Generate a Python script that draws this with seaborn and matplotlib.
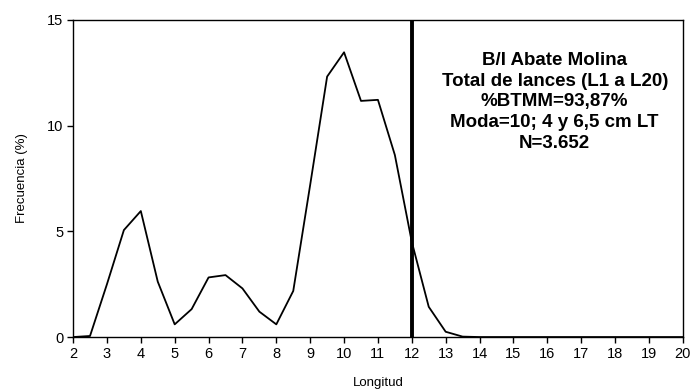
import matplotlib
matplotlib.use("Agg")
import matplotlib.pyplot as plt
import seaborn as sns
import pandas as pd

# Length-frequency distribution (total of hauls)
longitud = [2, 2.5, 3, 3.5, 4, 4.5, 5, 5.5, 6, 6.5, 7, 7.5, 8, 8.5, 9, 9.5, 10,
            10.5, 11, 11.5, 12, 12.5, 13, 13.5, 14, 14.5, 15, 15.5, 16, 16.5,
            17, 17.5, 18, 18.5, 19, 19.5, 20]
frecuencia = [0, 0.05, 2.5, 5.06, 5.96, 2.62, 0.6, 1.32, 2.82, 2.93, 2.3, 1.2,
              0.6, 2.18, 7.2, 12.32, 13.47, 11.17, 11.22, 8.61, 4.5, 1.43, 0.25,
              0.02, 0, 0, 0, 0, 0, 0, 0, 0, 0, 0, 0, 0, 0]
x_ticks = list(range(2, 21))
y_ticks = [0, 5, 10, 15]
talla_corte = 12
info = ["B/I Abate Molina", "Total de lances (L1 a L20)", "%BTMM=93,87%",
        "Moda=10; 4 y 6,5 cm LT", "N=3.652"]

sns.set_theme(style="ticks")
plt.rcParams["font.family"] = ["Liberation Sans", "DejaVu Sans"]
plt.rcParams["text.color"] = "black"
plt.rcParams["axes.labelcolor"] = "black"
plt.rcParams["xtick.color"] = "black"
plt.rcParams["ytick.color"] = "black"

df = pd.DataFrame({"Longitud": longitud, "Frecuencia": frecuencia})

fig = plt.figure(figsize=(6.96, 3.91), dpi=100)
ax = fig.add_axes([0.105, 0.138, 0.876, 0.811])
sns.lineplot(data=df, x="Longitud", y="Frecuencia", ax=ax, color="black",
             linewidth=1.3)
ax.axvline(talla_corte, color="black", linewidth=2.8)

ax.set_xlim(2, 20)
ax.set_ylim(0, 15)
ax.set_xticks(x_ticks)
ax.set_yticks(y_ticks)
ax.tick_params(axis="both", labelsize=10.5, length=4, width=1,
               direction="out", pad=3)
for s in ax.spines.values():
    s.set_color("black")
    s.set_linewidth(1)

ax.set_xlabel("Longitud", fontsize=9.5, labelpad=12)
ax.set_ylabel("Frecuencia (%)", fontsize=9.5, labelpad=14)

ax.text(0.79, 0.90, "\n".join(info), transform=ax.transAxes, ha="center",
        va="top", fontsize=13.5, fontweight="bold", linespacing=1.3)

fig.savefig("out.png", dpi=100)
